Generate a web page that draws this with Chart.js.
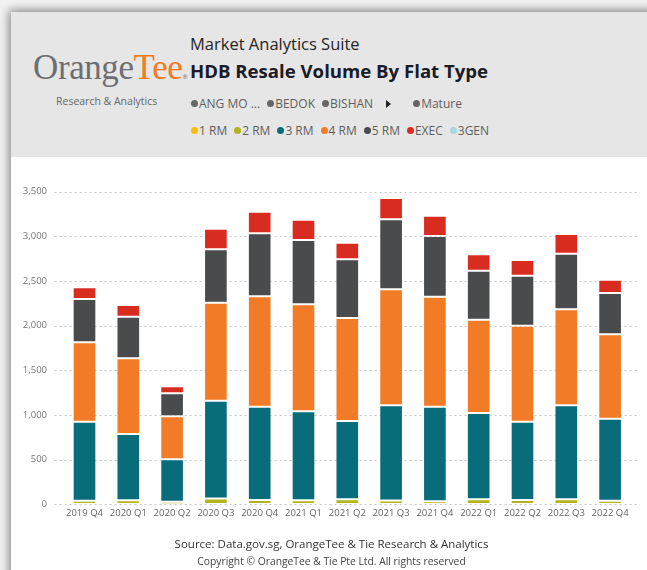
<!DOCTYPE html>
<html>
<head>
<meta charset="utf-8">
<script src="https://cdn.jsdelivr.net/npm/chart.js@4/dist/chart.umd.min.js"></script>
<style>
  html, body { margin: 0; padding: 0; }
  body { width: 647px; height: 570px; background: #f2f2f2; position: relative; overflow: hidden; font-family: "Open Sans", sans-serif; }
  #panel { position: absolute; left: 11px; top: 12px; width: 660px; height: 600px; background: #fff; box-shadow: 0 0 9px 2px rgba(0,0,0,0.45); }
  #head { position: absolute; left: 0; top: 0; width: 100%; height: 145px; background: #e6e6e6; }
  #logo { position: absolute; left: 22px; top: 38px; font-family: "Liberation Serif", serif; font-size: 35px; color: #6d6e71; letter-spacing: -0.4px; line-height: 1; white-space: nowrap; }
  #logo .t { color: #f37a21; }
  #logo sup { font-family: "Open Sans", sans-serif; font-size: 6px; color: #6d6e71; vertical-align: 0; margin-left: 0; letter-spacing: 0; }
  #sub { position: absolute; left: 45px; top: 82px; font-size: 10.5px; color: #666; white-space: nowrap; }
  #suite { position: absolute; left: 179px; top: 20px; font-size: 16.5px; color: #252423; white-space: nowrap; }
  #title { position: absolute; left: 179px; top: 46px; font-size: 18.6px; font-weight: 700; color: #1b1b28; white-space: nowrap; }
  .row { position: absolute; left: 180px; font-size: 12px; color: #605e5c; white-space: nowrap; display: flex; align-items: center; }
  .row span.i { display: inline-flex; align-items: center; margin-right: 7px; }
  .row span.d { display: inline-block; width: 7px; height: 7px; border-radius: 50%; margin-right: 1px; }
  #row1 { top: 83px; }
  #row2 { top: 110px; }
  .arrow { display: inline-block; width: 0; height: 0; border-top: 4px solid transparent; border-bottom: 4px solid transparent; border-left: 5px solid #222; margin: 0 22px 0 6px; }
  #chartbox { position: absolute; left: 0; top: 160px; width: 647px; height: 380px; }
  .foot { position: absolute; left: 0; width: 647px; text-align: center; white-space: nowrap; }
  #src { top: 536px; font-size: 11.5px; color: #333; left: 8px; }
  #copy { top: 554px; font-size: 10.3px; color: #444; left: 8px; }
</style>
</head>
<body>
<div id="panel">
  <div id="head">
    <div id="logo">Orange<span class="t">Tee</span><sup>®</sup></div>
    <div id="sub">Research &amp; Analytics</div>
    <div id="suite">Market Analytics Suite</div>
    <div id="title">HDB Resale Volume By Flat Type</div>
    <div class="row" id="row1"></div>
    <div class="row" id="row2"></div>
  </div>
</div>
<div id="chartbox"><canvas id="chart"></canvas></div>
<div class="foot" id="src">Source: Data.gov.sg, OrangeTee &amp; Tie Research &amp; Analytics</div>
<div class="foot" id="copy">Copyright © OrangeTee &amp; Tie Pte Ltd. All rights reserved</div>

<script>
const quarters = ["2019 Q4", "2020 Q1", "2020 Q2", "2020 Q3", "2020 Q4", "2021 Q1", "2021 Q2",
  "2021 Q3", "2021 Q4", "2022 Q1", "2022 Q2", "2022 Q3", "2022 Q4"];

const rm1 = [2, 3, 1, 4, 3, 3, 4, 3, 2, 4, 3, 4, 2];
const rm2 = [38, 43, 27, 62, 46, 42, 52, 40, 31, 52, 45, 52, 38];
const rm3 = [885, 740, 476, 1094, 1044, 996, 877, 1065, 1060, 966, 877, 1052, 918];
const rm4 = [889, 848, 481, 1097, 1236, 1198, 1153, 1299, 1232, 1045, 1075, 1075, 945];
const rm5 = [485, 466, 258, 598, 705, 720, 657, 784, 679, 549, 560, 623, 463];
const exec = [131, 131, 78, 231, 242, 228, 186, 239, 228, 183, 175, 221, 149];
const gen3 = [0, 0, 0, 0, 0, 0, 0, 0, 0, 0, 0, 0, 0];

const seriesNames = ["1 RM", "2 RM", "3 RM", "4 RM", "5 RM", "EXEC", "3GEN"];
const seriesColors = ["#f7bd0d", "#b4b31c", "#086c7b", "#f27b27", "#4a4b4d", "#d92c21", "#a6d8dc"];
const seriesData = [rm1, rm2, rm3, rm4, rm5, exec, gen3];

const filterNames = ["ANG MO ...", "BEDOK", "BISHAN"];

// header legends
const row1 = document.getElementById("row1");
filterNames.forEach(n => {
  row1.insertAdjacentHTML("beforeend", `<span class="i"><span class="d" style="background:#666"></span>${n}</span>`);
});
row1.insertAdjacentHTML("beforeend", `<span class="arrow"></span><span class="i"><span class="d" style="background:#666"></span>Mature</span>`);

const row2 = document.getElementById("row2");
seriesNames.forEach((n, i) => {
  row2.insertAdjacentHTML("beforeend", `<span class="i"><span class="d" style="background:${seriesColors[i]}"></span>${n}</span>`);
});

// dotted grid lines that run a bit past the plot area, like the original
const dotGrid = {
  id: "dotGrid",
  beforeDatasetsDraw(chart) {
    const { ctx, chartArea, scales } = chart;
    ctx.save();
    ctx.strokeStyle = "#c6c6c6";
    ctx.lineWidth = 1;
    ctx.setLineDash([2, 3]);
    scales.y.ticks.forEach(t => {
      const y = Math.round(scales.y.getPixelForValue(t.value)) + 0.5;
      ctx.beginPath();
      ctx.moveTo(chartArea.left - 8, y);
      ctx.lineTo(chartArea.right + 5, y);
      ctx.stroke();
    });
    ctx.restore();
  }
};

const tickFont = { family: "Open Sans", size: 9.5 };

new Chart(document.getElementById("chart"), {
  type: "bar",
  data: {
    labels: quarters,
    datasets: seriesNames.map((n, i) => ({
      label: n,
      data: seriesData[i],
      backgroundColor: seriesColors[i],
      borderColor: "rgba(255,255,255,0.3)",
      borderWidth: 1,
      borderSkipped: false,
      categoryPercentage: 1,
      barPercentage: 0.54,
    })),
  },
  options: {
    responsive: true,
    maintainAspectRatio: false,
    animation: false,
    layout: { padding: { left: 0, right: 15, top: 31.7, bottom: 15.7 } },
    plugins: { legend: { display: false }, tooltip: { enabled: false } },
    scales: {
      x: {
        stacked: true,
        grid: { display: false, drawTicks: false },
        border: { display: false },
        ticks: { color: "#666", font: tickFont, padding: 3, maxRotation: 0, autoSkip: false },
        afterFit(s) { s.height = 20; },
      },
      y: {
        stacked: true,
        min: 0,
        max: 3500,
        grid: { display: false, drawTicks: false },
        border: { display: false },
        ticks: { stepSize: 500, color: "#777", font: tickFont, padding: 15.6 },
        afterFit(s) { s.width = 62.6; },
      },
    },
  },
  plugins: [dotGrid],
});
</script>
</body>
</html>
